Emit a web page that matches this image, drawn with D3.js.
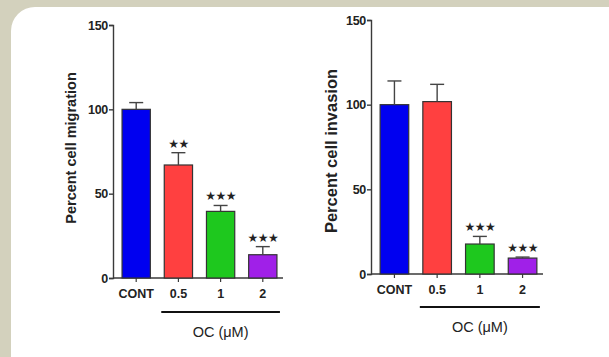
<!DOCTYPE html>
<html><head><meta charset="utf-8">
<script src="https://cdn.jsdelivr.net/npm/d3@7/dist/d3.min.js"></script>
<style>body{margin:0;background:#d3d1bd;}svg{display:block;}</style>
</head><body>
<svg id="c" width="609" height="357"></svg>
<script>
const categories = ["CONT", "0.5", "1", "2"];
const colors = ["#0000f0", "#ff4040", "#1ec81e", "#a020e8"];
const migration = [100, 67, 39.5, 13.8];
const migrationErr = [4, 7.3, 3.5, 4.8];
const migrationStars = ["", "**", "***", "***"];
const invasion = [100, 101.8, 17.7, 9.4];
const invasionErr = [14, 10.2, 4.5, 0.6];
const invasionStars = ["", "", "***", "***"];
const yTicks = [0, 50, 100, 150];

const svg = d3.select("#c");
svg.append("rect").attr("x", 11).attr("y", 7).attr("width", 640).attr("height", 380)
  .attr("rx", 24).attr("fill", "#ffffff");

const FONT = "Liberation Sans, Arial, sans-serif";
function panel(cfg) {
  const g = svg.append("g");
  const y = d3.scaleLinear().domain([0, 150]).range([cfg.y0, cfg.y150]);
  const x = d3.scaleBand().domain(categories).range([cfg.xa + 4, cfg.xe - 1]).paddingInner(0.33).paddingOuter(0.12);
  const axisColor = "#3a3a3a";
  const ya = g.append("g").attr("transform", `translate(${cfg.xa},0)`)
    .call(d3.axisLeft(y).tickValues(yTicks).tickSize(4).tickPadding(1));
  ya.select(".domain").attr("stroke", axisColor).attr("stroke-width", 1.4);
  ya.selectAll(".tick line").attr("stroke", axisColor).attr("stroke-width", 1.4);
  ya.selectAll(".tick text").attr("font-family", FONT)
    .attr("font-weight", "bold").attr("font-size", 12.5).attr("fill", "#222").attr("letter-spacing", "-0.3");
  const xa = g.append("g").attr("transform", `translate(0,${cfg.y0})`)
    .call(d3.axisBottom(x).tickSize(4).tickPadding(7).tickSizeOuter(0));
  xa.select(".domain").attr("d", `M${cfg.xa},0H${cfg.xe}`).attr("stroke", axisColor).attr("stroke-width", 1.4);
  xa.selectAll(".tick line").attr("stroke", axisColor).attr("stroke-width", 1.2);
  xa.selectAll(".tick text").attr("font-family", FONT)
    .attr("font-weight", "bold").attr("font-size", 12.5).attr("fill", "#222");
  g.selectAll("rect.bar").data(cfg.values).enter().append("rect")
    .attr("x", (d, i) => x(categories[i]))
    .attr("y", d => y(d))
    .attr("width", x.bandwidth())
    .attr("height", d => y(0) - y(d))
    .attr("fill", (d, i) => colors[i])
    .attr("stroke", "#333").attr("stroke-width", 1.2);
  cfg.values.forEach((v, i) => {
    const cx = x(categories[i]) + x.bandwidth() / 2;
    const top = y(v + cfg.err[i]);
    g.append("line").attr("x1", cx).attr("x2", cx).attr("y1", y(v)).attr("y2", top)
      .attr("stroke", "#444").attr("stroke-width", 1.4);
    g.append("line").attr("x1", cx - 7).attr("x2", cx + 7).attr("y1", top).attr("y2", top)
      .attr("stroke", "#444").attr("stroke-width", 1.4);
    if (cfg.stars[i]) {
      g.append("text").attr("x", cx).attr("y", top - 5).attr("text-anchor", "middle")
        .attr("font-family", "DejaVu Sans, sans-serif").attr("font-size", 12).attr("font-weight", "bold")
        .attr("letter-spacing", "-0.5").attr("fill", "#222").text(cfg.stars[i].replace(/\*/g, "\u2605"));
    }
  });
  const x1 = x("0.5") - 3, x2 = x("2") + x.bandwidth() + 3;
  g.append("line").attr("x1", x1).attr("x2", x2).attr("y1", cfg.lineY).attr("y2", cfg.lineY)
    .attr("stroke", "#111").attr("stroke-width", 2.2);
  g.append("text").attr("x", (x1 + x2) / 2).attr("y", cfg.lineY + 25).attr("text-anchor", "middle")
    .attr("font-family", FONT).attr("font-size", 14.5).attr("fill", "#222")
    .text("OC (\u03bcM)");
  g.append("text").attr("transform", `translate(${cfg.labelX},${cfg.labelY}) rotate(-90)`)
    .attr("text-anchor", "middle").attr("font-family", FONT)
    .attr("font-weight", "bold").attr("font-size", cfg.labelSize).attr("fill", "#222").text(cfg.label);
}

panel({xa: 113, xe: 283, y0: 278, y150: 25, values: migration, err: migrationErr, stars: migrationStars,
  lineY: 312, labelX: 76, labelY: 148, labelSize: 14.5, label: "Percent cell migration"});
panel({xa: 371, xe: 543, y0: 274, y150: 20, values: invasion, err: invasionErr, stars: invasionStars,
  lineY: 307, labelX: 337, labelY: 151, labelSize: 16.5, label: "Percent cell invasion"});
</script>
</body></html>
